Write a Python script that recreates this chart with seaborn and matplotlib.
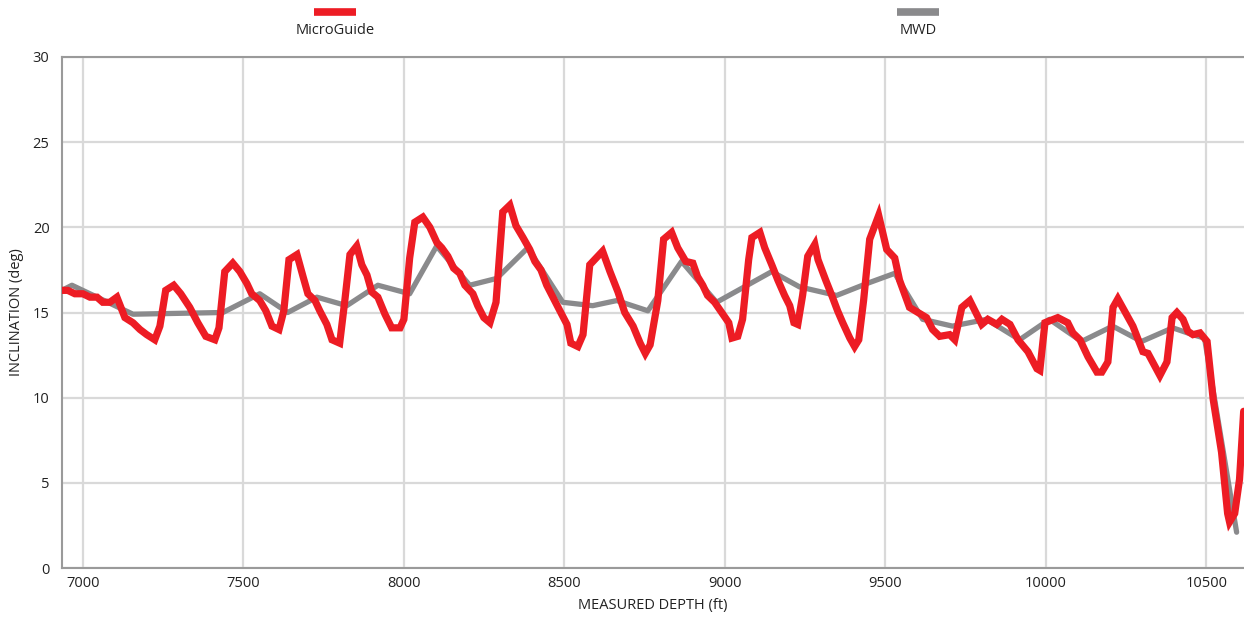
import matplotlib.pyplot as plt
import matplotlib.lines as mlines
import pandas as pd
import seaborn as sns

# MicroGuide (continuous) inclination
MG_DEPTH = [6935, 6953, 6975, 7000, 7022, 7044, 7062, 7084, 7106, 7131, 7156, 7178, 7199, 7224,
            7240, 7258, 7283, 7305, 7333, 7358, 7383, 7411, 7424, 7442, 7467, 7489, 7511, 7526,
            7551, 7570, 7589, 7611, 7626, 7642, 7667, 7686, 7701, 7723, 7738, 7760, 7776, 7800,
            7816, 7832, 7853, 7869, 7885, 7900, 7919, 7941, 7962, 7988, 8000, 8018, 8034, 8059,
            8081, 8103, 8118, 8137, 8155, 8174, 8190, 8215, 8230, 8249, 8268, 8287, 8308, 8330,
            8349, 8371, 8392, 8408, 8427, 8445, 8464, 8486, 8508, 8520, 8542, 8558, 8579, 8619,
            8642, 8667, 8688, 8714, 8736, 8752, 8767, 8791, 8809, 8834, 8853, 8878, 8900, 8915,
            8931, 8946, 8968, 8990, 9012, 9022, 9040, 9055, 9074, 9084, 9109, 9124, 9146, 9165,
            9186, 9202, 9215, 9227, 9242, 9258, 9280, 9290, 9314, 9333, 9351, 9367, 9389, 9404,
            9417, 9432, 9451, 9467, 9479, 9504, 9529, 9544, 9575, 9628, 9647, 9669, 9700, 9716,
            9738, 9763, 9800, 9819, 9847, 9863, 9888, 9913, 9944, 9972, 9981, 9997, 10037, 10068,
            10084, 10106, 10131, 10159, 10174, 10193, 10209, 10224, 10271, 10302, 10318, 10355,
            10377, 10393, 10408, 10427, 10442, 10458, 10480, 10502, 10521, 10547, 10566, 10572,
            10588, 10603, 10616]
MG_INC = [16.3, 16.3, 16.1, 16.1, 15.9, 15.9, 15.6, 15.6, 15.9, 14.7, 14.4, 14.0, 13.7, 13.4,
          14.2, 16.3, 16.6, 16.1, 15.3, 14.4, 13.6, 13.4, 14.1, 17.4, 17.9, 17.4, 16.7, 16.1,
          15.7, 15.1, 14.2, 14.0, 15.1, 18.1, 18.4, 17.1, 16.1, 15.7, 15.1, 14.3, 13.4, 13.2,
          15.7, 18.4, 18.9, 17.8, 17.2, 16.2, 15.9, 14.9, 14.1, 14.1, 14.6, 18.2, 20.3, 20.6,
          20.0, 19.1, 18.8, 18.3, 17.6, 17.3, 16.6, 16.1, 15.4, 14.7, 14.4, 15.6, 20.9, 21.3,
          20.1, 19.4, 18.7, 18.0, 17.5, 16.6, 15.9, 15.1, 14.3, 13.2, 13.0, 13.7, 17.8, 18.6,
          17.4, 16.2, 15.0, 14.2, 13.2, 12.6, 13.1, 15.7, 19.3, 19.7, 18.8, 18.0, 17.9, 17.1,
          16.6, 16.0, 15.6, 15.0, 14.4, 13.5, 13.6, 14.6, 18.1, 19.4, 19.7, 18.8, 17.8, 16.9,
          16.0, 15.4, 14.4, 14.3, 16.0, 18.3, 19.0, 18.1, 16.9, 16.0, 15.1, 14.4, 13.5, 13.0,
          13.4, 15.7, 19.3, 20.1, 20.7, 18.7, 18.2, 16.9, 15.3, 14.7, 14.0, 13.6, 13.7, 13.4,
          15.3, 15.7, 14.3, 14.6, 14.3, 14.6, 14.3, 13.4, 12.7, 11.7, 11.6, 14.4, 14.7, 14.4,
          13.8, 13.4, 12.4, 11.5, 11.5, 12.1, 15.3, 15.8, 14.2, 12.7, 12.6, 11.3,
          12.1, 14.7, 15.0, 14.6, 13.9, 13.7, 13.8, 13.3, 9.9, 6.8, 3.2, 2.7,
          3.2, 5.2, 9.2]

# MWD survey stations
MWD_DEPTH = [6935, 6966, 7156, 7436, 7551, 7638, 7729, 7822, 7919, 8018, 8102, 8205, 8289, 8386,
             8495, 8588, 8663, 8760, 8865, 8974, 9146, 9233, 9348, 9442, 9529, 9616, 9709, 9815,
             9918, 10011, 10111, 10208, 10298, 10395, 10457, 10494, 10594]
MWD_INC = [16.3, 16.6, 14.9, 15.0, 16.1, 15.0, 15.9, 15.4, 16.6, 16.1, 18.9, 16.6, 17.0, 18.8,
           15.6, 15.4, 15.7, 15.1, 18.0, 15.6, 17.4, 16.5, 16.0, 16.7, 17.3, 14.6, 14.2, 14.6,
           13.4, 14.6, 13.3, 14.2, 13.3, 14.1, 13.7, 13.5, 2.1]

X_TICKS = [7000, 7500, 8000, 8500, 9000, 9500, 10000, 10500]
Y_TICKS = [0, 5, 10, 15, 20, 25, 30]

RED = "#ED1C24"
GRAY = "#8A8A8C"
TEXT = "#222222"

sns.set_style("white")
plt.rcParams["font.family"] = ["Open Sans", "DejaVu Sans"]

mg = pd.DataFrame({"depth": MG_DEPTH, "inc": MG_INC})
mwd = pd.DataFrame({"depth": MWD_DEPTH, "inc": MWD_INC})

fig = plt.figure(figsize=(12.44, 6.18), dpi=100)
ax = fig.add_axes([62 / 1244, 1 - 568 / 618, 1 - 62 / 1244, (568 - 57) / 618])

sns.lineplot(data=mwd, x="depth", y="inc", ax=ax, color=GRAY, linewidth=3.8,
             estimator=None, sort=False, zorder=3)
sns.lineplot(data=mg, x="depth", y="inc", ax=ax, color=RED, linewidth=5.2,
             estimator=None, sort=False, zorder=4, solid_joinstyle="miter")

ax.set_xlim(6935, 10617)
ax.set_ylim(0, 30)
ax.set_xticks(X_TICKS)
ax.set_yticks(Y_TICKS)
ax.grid(True, color="#D9D9D9", linewidth=1.6)
ax.set_axisbelow(True)
ax.tick_params(length=0, labelsize=10.5, colors=TEXT)
ax.tick_params(axis="x", pad=6)
ax.tick_params(axis="y", pad=9)
for side in ["left", "top", "bottom"]:
    ax.spines[side].set_color("#9A9A9A")
    ax.spines[side].set_linewidth(1.5)
ax.spines["right"].set_visible(False)
ax.set_xlabel("MEASURED DEPTH (ft)", fontsize=10.5, color=TEXT, labelpad=5)
ax.set_ylabel("INCLINATION (deg)", fontsize=10.5, color=TEXT, labelpad=6)

# legend: handle drawn above its label
for x0, x1, col, lab in [(314, 356, RED, "MicroGuide"), (897, 939, GRAY, "MWD")]:
    y = 1 - 12 / 618
    fig.add_artist(mlines.Line2D([x0 / 1244, x1 / 1244], [y, y], color=col,
                                 linewidth=5.5, solid_capstyle="butt"))
    fig.text((x0 + x1) / 2 / 1244, 1 - 31 / 618, lab, ha="center", va="center",
             fontsize=10.5, color=TEXT)

fig.savefig("out.png", dpi=100)
